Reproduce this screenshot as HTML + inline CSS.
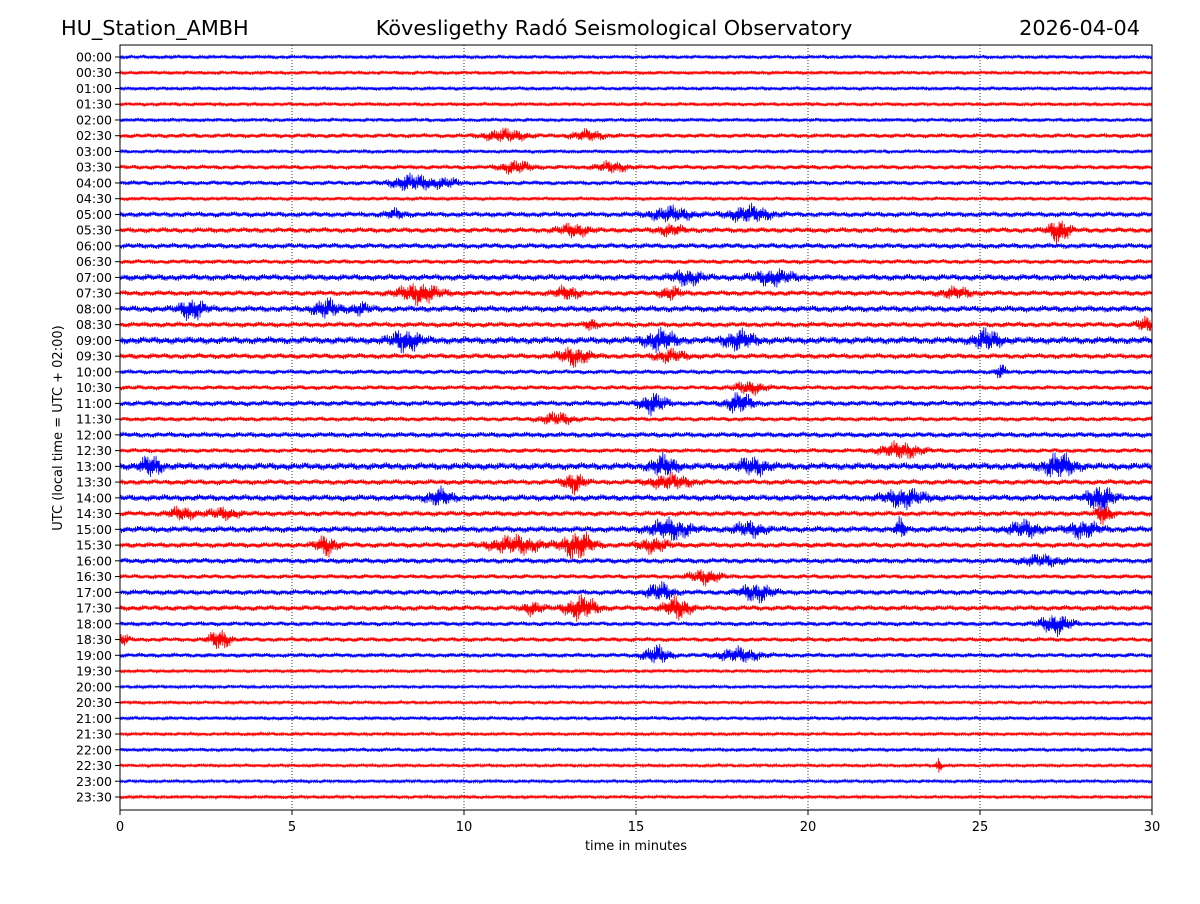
<!DOCTYPE html>
<html><head><meta charset="utf-8">
<style>
body{margin:0;background:#fff;font-family:"DejaVu Sans","Liberation Sans",sans-serif;}
svg text{font-family:"DejaVu Sans","Liberation Sans",sans-serif;}
</style></head>
<body>
<svg id="chart" width="1200" height="900" xmlns="http://www.w3.org/2000/svg">
<rect width="1200" height="900" fill="#fff"/>
<text x="61" y="35" font-size="20.8">HU_Station_AMBH</text>
<text x="614" y="35" font-size="20.8" text-anchor="middle">Kövesligethy Radó Seismological Observatory</text>
<text x="1140" y="35" font-size="20.8" text-anchor="end">2026-04-04</text>
<g id="grid"></g>
<g id="traces"></g>
<rect x="120" y="45" width="1032" height="765" fill="none" stroke="#000" stroke-width="1"/>
<g id="xaxis"></g>
<g id="yaxis"></g>
<text x="636" y="850" font-size="13" text-anchor="middle">time in minutes</text>
<text transform="translate(62,428) rotate(-90)" font-size="13" text-anchor="middle">UTC (local time = UTC + 02:00)</text>
</svg>
<script>
const rowLabels = [];
for (let h = 0; h < 24; h++) { const hh = String(h).padStart(2,'0'); rowLabels.push(hh+':00', hh+':30'); }
const xTicks = [0,5,10,15,20,25,30];
// baseline noise amplitude (px) per row
const baseAmp = [2,2,2,2,2,2.5,2,2.5,2.5,2,3,3,3,2.5,3.5,3,3.5,3,4,3,2.5,2.5,3,2.5,3,2.5,4,3,3.5,3,3.5,3,3,2.5,3,3,2.5,2.5,2.5,1.8,1.8,1.8,2,1.8,2,1.8,1.8,1.8];
// bursts: [row, minute, half-width (min), amplitude px]
const bursts = [
[5,11.2,0.8,6],[5,13.6,0.6,5],[7,11.5,0.6,6],[7,14.3,0.6,5],[8,8.5,0.8,8],[8,9.5,0.5,4],
[10,16,0.8,7],[10,18.3,0.8,8],[10,8,0.4,4],[11,27.3,0.4,12],[11,13.2,0.6,6],[11,16,0.5,5],
[14,16.5,0.6,7],[14,19,0.8,7],[15,8.7,0.8,10],[15,13,0.5,6],[15,16,0.4,6],[15,24.3,0.6,5],
[16,2.1,0.5,10],[16,6.0,0.5,9],[16,7,0.4,5],[17,29.8,0.3,7],[17,13.7,0.2,6],
[18,8.3,0.6,10],[18,15.7,0.6,10],[18,18,0.6,9],[18,25.2,0.5,10],[19,13.2,0.6,9],[19,16,0.6,6],
[20,25.6,0.2,7],[21,18.3,0.6,6],[22,15.5,0.5,10],[22,18,0.5,10],[23,12.7,0.6,6],[25,22.7,0.8,8],
[26,0.9,0.4,10],[26,15.8,0.5,10],[26,18.4,0.6,8],[26,27.3,0.6,12],[27,13.2,0.4,10],[27,16,0.8,7],
[28,9.3,0.5,8],[28,22.8,0.8,9],[28,28.5,0.5,14],[29,1.8,0.5,6],[29,3,0.6,5],[29,28.6,0.3,10],
[30,16,0.8,10],[30,18.3,0.6,7],[30,22.7,0.2,10],[30,26.3,0.6,8],[30,28,0.6,8],
[31,6,0.4,10],[31,11.5,1,9],[31,13.3,0.6,14],[31,15.5,0.6,7],[32,26.8,0.8,5],[33,17,0.6,7],
[34,15.7,0.5,9],[34,18.5,0.6,9],[35,13.4,0.6,12],[35,16.2,0.5,11],[35,12,0.4,6],[36,27.2,0.6,10],
[37,2.9,0.4,10],[37,0.1,0.2,6],[38,15.6,0.5,9],[38,18,0.8,7],[45,23.8,0.1,9]
];
const X0=120,X1=1152,Y0=57,Y1=797;
const xs = m => X0 + (m/30)*(X1-X0);
const ys = r => Y0 + r*(Y1-Y0)/47;
const NS='http://www.w3.org/2000/svg';
const grid=document.getElementById('grid'), xa=document.getElementById('xaxis'), ya=document.getElementById('yaxis'), tr=document.getElementById('traces');
xTicks.forEach(t=>{
  const x=xs(t);
  if(t>0&&t<30){const l=document.createElementNS(NS,'line');
    
    
    l.setAttribute('x1',x);l.setAttribute('x2',x);l.setAttribute('y1',45);l.setAttribute('y2',810);l.setAttribute('stroke','#000');l.setAttribute('stroke-width','0.8');l.setAttribute('stroke-dasharray','1,2');grid.appendChild(l);}
  const tk=document.createElementNS(NS,'line');
  
  
  tk.setAttribute('x1',x);tk.setAttribute('x2',x);tk.setAttribute('y1',810);tk.setAttribute('y2',815);tk.setAttribute('stroke','#000');xa.appendChild(tk);
  const tx=document.createElementNS(NS,'text');
  
  
  tx.setAttribute('x',x);tx.setAttribute('y',831);tx.setAttribute('font-size','13');tx.setAttribute('text-anchor','middle');tx.textContent=t;xa.appendChild(tx);
});
rowLabels.forEach((lab,r)=>{
  const y=ys(r);
  const tk=document.createElementNS(NS,'line');
  
  
  tk.setAttribute('x1',115);tk.setAttribute('x2',120);tk.setAttribute('y1',y);tk.setAttribute('y2',y);tk.setAttribute('stroke','#000');ya.appendChild(tk);
  const tx=document.createElementNS(NS,'text');
  
  
  tx.setAttribute('x',112);tx.setAttribute('y',y+4.5);tx.setAttribute('font-size','12.5');tx.setAttribute('text-anchor','end');tx.textContent=lab;ya.appendChild(tx);
  const rb=bursts.filter(b=>b[0]===r);
  let d='';const N=2000;
  for(let i=0;i<=N;i++){
    const m=30*i/N;
    let a=baseAmp[r];
    rb.forEach(b=>{const z=(m-b[1])/b[2];a+=b[3]*Math.exp(-z*z*1.8);});
    const c=Math.sin(i*2.31+r*1.7)*0.5+Math.sin(i*5.17+r)*0.3+Math.sin(i*0.913+r*3.1)*0.2;
    const sgn=(i%2?1:-1);
    d+=(i?'L':'M')+xs(m).toFixed(1)+','+(y+sgn*a*(0.15+Math.abs(c))*0.95).toFixed(1);
  }
  const p=document.createElementNS(NS,'path');
  
  
  p.setAttribute('d',d);p.setAttribute('fill','none');p.setAttribute('stroke',r%2?'#ff0000':'#0000ff');p.setAttribute('stroke-width','0.8');
  tr.appendChild(p);
});
</script>
</body></html>
